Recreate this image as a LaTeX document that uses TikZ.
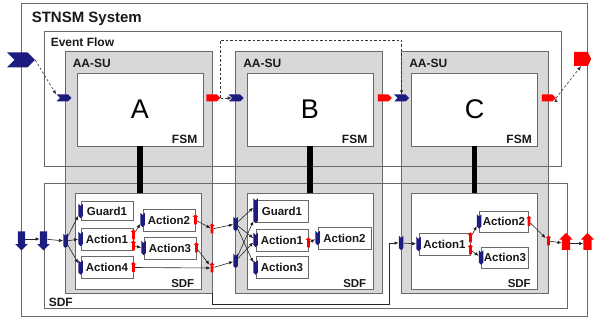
\documentclass[tikz,border=0pt]{standalone}
\usepackage{fontspec}
\setmainfont{Liberation Sans}
\usetikzlibrary{positioning,shapes.symbols,shapes.arrows,arrows.meta}

\definecolor{boxline}{RGB}{105,105,105}
\definecolor{aasugray}{RGB}{216,216,216}
\definecolor{portblue}{RGB}{28,28,128}
\definecolor{portred}{RGB}{255,0,0}
\definecolor{labeltext}{RGB}{25,25,25}

\tikzset{
  wh/.style 2 args={minimum width=#1pt,minimum height=#2pt},
  frame node/.style={draw=boxline,line width=0.9pt,inner sep=0pt},
  aasu node/.style={frame node,fill=aasugray},
  white node/.style={frame node,fill=white},
  act node/.style={draw=boxline,line width=0.8pt,fill=white,inner sep=0pt,wh={52}{22},
    font=\fontsize{11.5}{12}\selectfont\bfseries,text=labeltext},
  label text/.style={inner sep=0pt,font=\fontsize{12}{14}\selectfont\bfseries,text=labeltext},
  ev in/.style={signal,signal from=west,signal to=east,fill=portblue,inner sep=0pt,wh={15}{7}},
  ev out/.style={signal,signal to=east,fill=portred,inner sep=0pt,wh={14}{7}},
  sdf in/.style={signal,signal from=north,signal to=south,fill=portblue,inner sep=0pt,wh={4.5}{10}},
  sdf out/.style={single arrow,shape border rotate=90,fill=portred,inner sep=1.2pt,
    single arrow head extend=1.3pt,minimum height=10pt,minimum width=5pt},
  sdf big in/.style={single arrow,shape border rotate=270,fill=portblue,inner sep=3.5pt,
    single arrow head extend=2.5pt,minimum height=19pt,minimum width=12pt},
  sdf big out/.style={single arrow,shape border rotate=90,fill=portred,inner sep=4pt,
    single arrow head extend=2.5pt,minimum height=17pt,minimum width=13pt},
  flow line/.style={draw=black!80,line width=0.6pt,dash pattern=on 2.5pt off 2pt,
    -{Latex[length=4pt,width=3.5pt]}},
  data line/.style={draw=black!85,line width=0.6pt,-{Latex[length=4pt,width=3.5pt]}},
}

\begin{document}
\begin{tikzpicture}[x=1pt,y=-1pt]
\useasboundingbox (0,0) rectangle (597,320);

% system frame
\node[frame node,wh={566}{313}] (sys) at (304,159.5) {};
\node[label text,font=\fontsize{15}{17}\selectfont\bfseries,below right=9pt and 11pt of sys.north west] (systitle) {STNSM System};

% AA-SU units
\foreach \n/\x in {A/138.5,B/309,C/475}
  \node[aasu node,wh={147}{242}] (g\n) at (\x,172) {};

% event flow and SDF frames, over the units
\node[frame node,wh={517}{135}] (event) at (302.5,98.5) {};
\node[label text,below right=7pt and 7pt of event.north west] (eventlabel) {Event Flow};
\node[frame node,wh={523}{125}] (sdf) at (305.5,245.5) {};
\node[label text,above right=1.5pt and 5pt of sdf.south west] (sdflabel) {SDF};

\foreach \n/\fx/\sx in {A/140/138,B/310/310,C/474.5/474.5}{
  \node[label text,below right=8pt and 8pt of g\n.north west] (aasu\n) {AA-SU};
  \node[white node,wh={126}{73}] (fsm\n) at (\fx,109.5) {\fontsize{27}{30}\selectfont\n};
  \node[label text,above left=3pt and 6pt of fsm\n.south east] (fsmlabel\n) {FSM};
  \node[white node,wh={126}{96}] (sdf\n) at (\sx,241) {};
  \node[label text,font=\fontsize{11.5}{13}\selectfont\bfseries,above left=2pt and 7pt of sdf\n.south east] (sdflabel\n) {SDF};
  \draw[line width=5.5pt] (fsm\n.south) -- (fsm\n.south |- sdf\n.north);
}

% actors of A
\node[act node,wh={52}{19}] (aguard) at (107,211) {Guard1};
\node[act node] (aact1) at (107,239) {Action1};
\node[act node] (aact4) at (107,267.5) {Action4};
\node[act node] (aact2) at (169,220) {Action2};
\node[act node] (aact3) at (170,248) {Action3};
% actors of B
\node[act node] (bguard) at (282,211) {Guard1};
\node[act node] (bact1) at (282,240) {Action1};
\node[act node] (bact3) at (282,267.5) {Action3};
\node[act node,wh={53}{22}] (bact2) at (344.5,238) {Action2};
% actors of C
\node[act node,wh={51}{22}] (cact1) at (444.5,244) {Action1};
\node[act node,wh={49}{21}] (cact2) at (504,221.5) {Action2};
\node[act node,wh={47}{21}] (cact3) at (505,257.5) {Action3};

% event ports
\node[ev in,wh={28}{15}] (envin) at (21,60) {};
\node[ev out,wh={17}{14},signal pointer angle=130] (envout) at (581,59) {};
\node[ev in] (ain) at (64,98) {};
\node[ev out] (aout) at (211.5,98) {};
\node[ev in] (bin) at (236,98) {};
\node[ev out] (bout) at (383,98) {};
\node[ev in] (cin) at (401.5,98) {};
\node[ev out] (cout) at (547,98) {};
\coordinate (ctop) at (401.5,40);

% data ports
\node[sdf big in] (sdfin1) at (21.5,239) {};
\node[sdf big in] (sdfin2) at (43.5,239) {};
\node[sdf big out] (sdfout1) at (566,243.5) {};
\node[sdf big out] (sdfout2) at (587.5,243.5) {};

\node[sdf in] (asin) at (65.5,241) {};
\node[sdf in] (aguardin) at (aguard.west) {};
\node[sdf in] (aact1in) at (aact1.west) {};
\node[sdf in] (aact4in) at (aact4.west) {};
\node[sdf in] (aact2in) at (aact2.west) {};
\node[sdf in] (aact3in) at (aact3.west) {};
\node[sdf out] (aact1out1) at ([yshift=4pt]aact1.east) {};
\node[sdf out] (aact1out2) at ([yshift=-7pt]aact1.east) {};
\node[sdf out] (aact2out) at (aact2.east) {};
\node[sdf out] (aact3out) at (aact3.east) {};
\node[sdf out] (aact4out) at (aact4.east) {};
\node[sdf out] (asout1) at (212,229) {};
\node[sdf out] (asout2) at (212,268) {};

\node[sdf in] (bsin1) at (235.5,224) {};
\node[sdf in] (bsin2) at (235.5,261) {};
\node[sdf in] (bguardin1) at ([yshift=5.5pt]bguard.west) {};
\node[sdf in] (bguardin2) at ([yshift=-5pt]bguard.west) {};
\node[sdf in] (bact1in) at (bact1.west) {};
\node[sdf in] (bact3in) at (bact3.west) {};
\node[sdf out] (bact1out) at ([yshift=-3pt]bact1.east) {};
\node[sdf in] (bact2in) at (bact2.west) {};

\node[sdf in] (csin) at (401,243) {};
\node[sdf in] (cact1in) at (cact1.west) {};
\node[sdf out] (cact1out1) at ([yshift=6pt]cact1.east) {};
\node[sdf out] (cact1out2) at ([yshift=-6pt]cact1.east) {};
\node[sdf in] (cact2in) at (cact2.west) {};
\node[sdf in] (cact3in) at (cact3.west) {};
\node[sdf out] (cact2out) at (cact2.east) {};
\node[sdf out] (csout) at (548.5,241) {};

% event flow
\path[flow line]
  (envin.east) edge (ain.north west)
  (aout.east) edge (bin.west)
  (cout.east) edge (envout.south);
\draw[flow line] (aout.east) |- (ctop) -- (cin.north);

% data flow
\path[data line]
  (sdfin1) edge (sdfin2)
  (sdfin2) edge (asin)
  (asin) edge (aguardin)
  (asin) edge (aact1in)
  (asin) edge (aact4in)
  (aact1out1) edge (aact2in)
  (aact1out2) edge (aact3in)
  (aact2out) edge (asout1)
  (aact3out) edge (asout2)
  (aact4out) edge (asout2)
  (asout1) edge (bsin1)
  (asout2) edge (bsin2)
  (bsin1) edge (bguardin1)
  (bsin1) edge (bact1in)
  (bsin1) edge (bact3in)
  (bsin2) edge (bguardin2)
  (bsin2) edge (bact1in)
  (bact1out) edge (bact2in)
  (csin) edge (cact1in)
  (cact1out1) edge (cact2in)
  (cact1out2) edge (cact3in)
  (cact2out) edge (csout)
  (csout) edge (sdfout1)
  (sdfout1) edge (sdfout2);
\draw[data line] (gA.south east) -- ++(0,11) -| ([xshift=-9pt]csin.west) -- (csin.west);
\end{tikzpicture}
\end{document}
